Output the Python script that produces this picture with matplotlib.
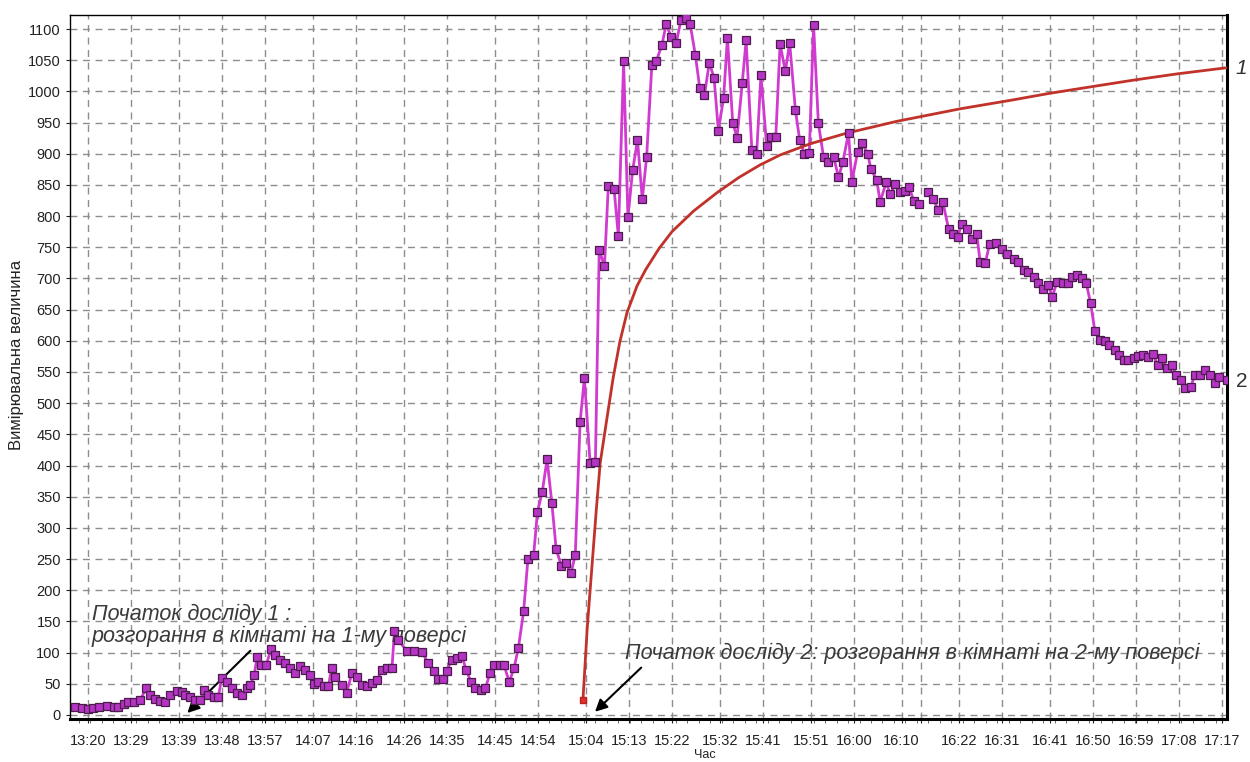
import numpy as np
import matplotlib
matplotlib.use("Agg")
import matplotlib.pyplot as plt


# DATA

# minutes after 13:20 and measured value (curve 2, purple)
minutes = [
    -2.7, -1.3, -0.1, 1.1, 2.2, 3.9, 5.3, 6.3, 7.4, 8.4, 9.5, 10.9, 12.1, 13.0, 14.0, 15.0,
    16.1, 17.1, 18.5, 19.6, 20.3, 21.3, 22.4, 23.4, 24.2, 25.1, 26.2, 27.2, 27.9, 29.0, 30.0,
    31.2, 32.1, 33.2, 33.9, 34.7, 35.3, 36.2, 37.2, 38.2, 39.1, 40.1, 41.2, 42.2, 43.3, 44.3,
    45.4, 46.4, 47.1, 48.1, 49.2, 50.2, 50.9, 51.6, 53.0, 54.0, 55.1, 56.2, 57.2, 58.2, 59.3,
    60.3, 61.4, 62.4, 63.5, 64.0, 64.8, 66.6, 68.0, 69.7, 71.1, 72.2, 73.2, 74.1, 74.9, 76.0,
    77.0, 78.1, 79.0, 80.0, 80.9, 82.1, 83.0, 84.0, 84.9, 86.0, 86.9, 88.0, 89.0, 89.9, 91.0,
    91.9, 93.1, 93.9, 94.9, 95.9, 96.9, 97.8, 98.9, 99.9, 100.9, 101.8, 102.8, 103.7, 104.9,
    106.0, 106.8, 107.9, 108.7, 109.9, 110.8, 111.9, 112.8, 113.8, 114.8, 115.8, 116.7, 117.8,
    118.7, 119.9, 120.8, 121.8, 122.9, 123.9, 125.0, 125.8, 126.9, 127.8, 128.8, 129.8, 130.8,
    131.7, 132.8, 133.6, 134.7, 135.6, 136.7, 137.5, 138.7, 139.7, 140.6, 141.8, 142.7, 143.7,
    144.6, 145.7, 146.6, 147.8, 148.7, 149.7, 150.7, 151.6, 152.6, 153.7, 154.7, 155.8, 156.8,
    157.7, 158.9, 159.6, 160.8, 161.7, 162.9, 163.6, 164.8, 165.5, 166.8, 167.6, 168.7, 169.6,
    170.7, 171.6, 172.5, 173.7, 174.6, 175.6, 176.5, 177.7, 178.6, 179.8, 180.7, 181.7, 182.6,
    183.6, 184.7, 185.7, 186.4, 187.5, 188.4, 189.8, 191.0, 192.0, 193.4, 194.4, 195.5, 196.5,
    197.6, 198.6, 199.6, 200.6, 201.5, 202.5, 203.7, 204.7, 205.6, 206.6, 207.7, 208.6, 209.5,
    210.4, 211.5, 212.5, 213.4, 214.5, 215.5, 216.5, 217.4, 218.5, 219.5, 220.4, 221.5, 222.5,
    223.5, 224.5, 225.4, 226.5, 227.4, 228.4, 229.3, 230.4, 231.3, 232.4, 233.4, 234.5, 235.5,
    236.4, 237.9,
]
values = [
    12, 11, 10, 11, 13, 14, 13, 12, 18, 21, 21, 24, 43, 32, 25, 23,
    20, 32, 39, 37, 32, 28, 24, 24, 40, 32, 28, 29, 59, 53, 43,
    35, 32, 43, 48, 64, 93, 80, 80, 105, 96, 88, 83, 76, 67, 79,
    72, 64, 50, 53, 46, 46, 76, 61, 48, 35, 67, 61, 48, 46, 52,
    56, 72, 75, 76, 134, 120, 103, 103, 101, 83, 71, 57, 57, 71, 88,
    91, 95, 72, 53, 43, 40, 43, 67, 80, 80, 80, 53, 75, 107, 166,
    250, 257, 326, 358, 410, 340, 266, 239, 243, 227, 257, 469, 540, 404,
    405, 745, 720, 848, 844, 768, 1048, 798, 874, 922, 827, 894, 1042,
    1048, 1074, 1108, 1088, 1078, 1115, 1118, 1108, 1058, 1006, 994, 1046, 1022,
    937, 990, 1086, 950, 926, 1014, 1082, 906, 900, 1026, 912, 927, 927,
    1076, 1032, 1078, 970, 922, 900, 901, 1106, 949, 894, 887, 895, 862,
    886, 933, 855, 903, 918, 900, 875, 858, 823, 854, 835, 851, 838,
    841, 846, 825, 820, np.nan, 839, 828, 810, 823, 780, 771, 767, 788,
    780, 764, 771, 727, 725, 756, 757, 748, 740, 732, 727, 714, 711,
    703, 693, 683, 690, 671, 695, 693, 693, 702, 706, 700, 692, 660,
    615, 601, 599, 593, 586, 577, 569, 570, 572, 576, 577, 574, 579,
    561, 572, 556, 561, 545, 537, 524, 526, 545, 545, 553, 545, 532,
    542, 537,
]

# curve 1 (red), starts at 15:04
red_minutes = [103.4, 104.3, 105.3, 106.2, 107.0, 108.3, 109.7, 111.1, 112.6, 114.7,
               116.5, 119.3, 122.0, 126.5, 131.5, 136.0, 140.4, 144.6, 150.9, 158.5,
               169.0, 182.2, 193.0, 201.0, 218.4, 227.5, 238.0]
red_values = [24, 140, 240, 330, 404, 470, 540, 598, 645, 688,
              714, 748, 775, 808, 838, 862, 882, 898, 916, 933,
              952, 972, 986, 997, 1018, 1028, 1038]

x_tick_times = ['13:20', '13:29', '13:39', '13:48', '13:57', '14:07', '14:16', '14:26',
                '14:35', '14:45', '14:54', '15:04', '15:13', '15:22', '15:32', '15:41',
                '15:51', '16:00', '16:10', '16:14', '16:22', '16:31', '16:41', '16:50',
                '16:59', '17:08', '17:17']
hidden_ticks = ['16:14']
y_ticks = list(range(0, 1101, 50))

note_1 = "Початок досліду 1 :\nрозгорання в кімнаті на 1-му поверсі"
note_2 = "Початок досліду 2: розгорання в кімнаті на 2-му поверсі"


# PLOT

plt.rcParams['font.family'] = ['Liberation Sans', 'DejaVu Sans']

fig = plt.figure(figsize=(12.5, 7.62), dpi=100)
ax = fig.add_axes([70 / 1250, 43 / 762, 1157 / 1250, 704 / 762])

ax.plot(minutes, values, color='#d03ad0', lw=2.0, zorder=3)
ax.plot(minutes, values, ls='none', marker='s', ms=5.3, mfc='#b534c4',
        mec='#4a1d4a', mew=0.9, zorder=4)

ax.plot(red_minutes, red_values, color='#c0322a', lw=2.0, zorder=3)
ax.plot(red_minutes[:1], red_values[:1], ls='none', marker='s', ms=4.5,
        mfc='#e03030', mec='#c02020', zorder=4)


def to_min(s):
    h, m = s.split(':')
    return int(h) * 60 + int(m) - 800


ax.set_xticks([to_min(s) for s in x_tick_times])
ax.set_xticklabels(['' if s in hidden_ticks else s for s in x_tick_times])
ax.set_xticks(np.arange(-2, 238, 2.4), minor=True)
ax.set_yticks(y_ticks)
ax.set_xlim(-3.8, 238.0)
ax.set_ylim(-6.5, 1122.5)

ax.grid(True, which='major', color='#8e8e8e', ls=(0, (5, 4)), lw=1.0)
ax.tick_params(axis='both', which='major', labelsize=10.5, colors='#222222', length=3)
ax.tick_params(axis='x', which='minor', length=3, color='#555555')
ax.tick_params(axis='x', pad=8)

for side in ['left', 'top']:
    ax.spines[side].set_linewidth(1.0)
for side in ['bottom', 'right']:
    ax.spines[side].set_linewidth(2.2)

# annotations
ax.text(0.8, 144, note_1, fontsize=15.5, style='italic', color='#3a3a3a',
        va='center', ha='left', linespacing=1.05)
ax.annotate('', xy=(20.3, 0), xytext=(34.3, 106),
            arrowprops=dict(arrowstyle='-|>', color='black', lw=1.5, mutation_scale=18))

ax.text(112.2, 98, note_2, fontsize=15.5, style='italic', color='#3a3a3a',
        va='center', ha='left')
ax.annotate('', xy=(105.5, 2), xytext=(116.0, 79),
            arrowprops=dict(arrowstyle='-|>', color='black', lw=1.5, mutation_scale=18))

ax.text(239.8, 1037, '1', fontsize=15, style='italic', color='#333333',
        va='center', ha='left', clip_on=False)
ax.text(239.8, 535, '2', fontsize=15, color='#333333',
        va='center', ha='left', clip_on=False)

fig.text(17 / 1250, 1 - 355 / 762, 'Вимірювальна величина', rotation=90,
         fontsize=12, va='center', ha='center', color='#222222')
fig.text(705 / 1250, 1 / 762, 'Час', fontsize=9, va='bottom',
         ha='center', color='#222222')

fig.savefig('out.png', dpi=100)
